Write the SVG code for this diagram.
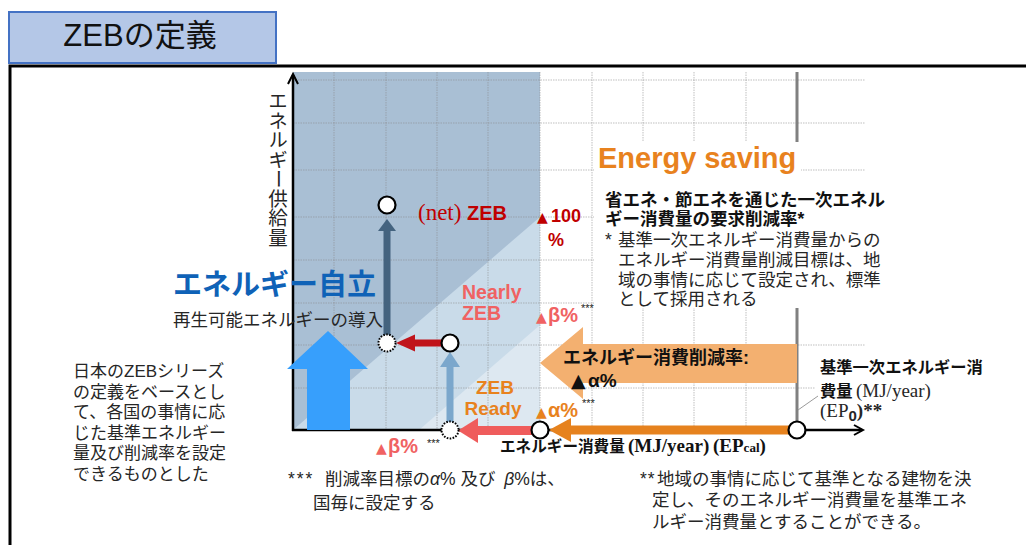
<svg xmlns="http://www.w3.org/2000/svg" width="1026" height="545" viewBox="0 0 1026 545">
<style>
.jp{font-family:"Liberation Sans","Noto Sans CJK JP",sans-serif;}
.ser{font-family:"Liberation Serif","Noto Serif CJK JP",serif;}
.n{fill:#262626;}
.b{font-weight:bold;}
.grid line{stroke:#8a8a8a;stroke-opacity:0.55;stroke-width:1;stroke-dasharray:1.5 1;}
.c{fill:#fff;stroke:#000;stroke-width:2.2;}
.cd{fill:#fff;stroke:#000;stroke-width:2;stroke-dasharray:1.6 1.4;}
.st{font-family:"Liberation Sans",sans-serif;font-size:11px;fill:#222;}
.red{fill:#c00000;}
.sal{fill:#f06262;}
.org{fill:#e8821e;}
.tri{font-family:"DejaVu Sans",sans-serif;font-size:14px;font-weight:normal;}
.trib{font-family:"DejaVu Sans",sans-serif;font-size:19px;font-weight:normal;}
.vt{font-family:"Noto Sans CJK JP",sans-serif;font-size:19.5px;fill:#262626;}
</style>
<rect width="1026" height="545" fill="#fff"/>

<g id="title">
<rect x="9" y="12" width="267" height="51" fill="#b4c7e7" stroke="#4472c4" stroke-width="2"/>
<text x="140" y="46" text-anchor="middle" class="jp" font-size="31" fill="#111">ZEBの定義</text>
</g>
<path id="frame" d="M10,545 V66 H1026" fill="none" stroke="#000" stroke-width="3"/>

<g id="chart-bg">
<rect x="293" y="72" width="247" height="358" fill="#a9bfd4"/>
<polygon points="293,430 540,217 540,430" fill="#c9dbe9"/>
<polygon points="419,430 540,325 540,430" fill="#dde8f1"/>
</g>

<g class="grid">
<line x1="334" y1="72" x2="334" y2="430"/>
<line x1="386" y1="72" x2="386" y2="430"/>
<line x1="437" y1="72" x2="437" y2="430"/>
<line x1="488" y1="72" x2="488" y2="430"/>
<line x1="540" y1="72" x2="540" y2="430"/>
<line x1="592" y1="72" x2="592" y2="430"/>
<line x1="643" y1="72" x2="643" y2="430"/>
<line x1="694" y1="72" x2="694" y2="430"/>
<line x1="746" y1="72" x2="746" y2="430"/>
<line x1="293" y1="80" x2="865" y2="80"/>
<line x1="293" y1="123" x2="865" y2="123"/>
<line x1="293" y1="170" x2="865" y2="170"/>
<line x1="293" y1="217" x2="865" y2="217"/>
<line x1="293" y1="260" x2="865" y2="260"/>
<line x1="293" y1="303" x2="865" y2="303"/>
<line x1="293" y1="345" x2="865" y2="345"/>
<line x1="293" y1="388" x2="865" y2="388"/>
</g>
<line id="baseline-bar" x1="797" y1="72" x2="797" y2="430" stroke="#808080" stroke-width="3"/>
<g id="covers" fill="#fff">
<rect x="594" y="142" width="207" height="38"/>
<rect x="594" y="180" width="296" height="128"/>
<rect x="815" y="352" width="180" height="70"/>
</g>

<g id="axes" stroke="#000" fill="none" stroke-width="2.5">
<line x1="293" y1="431" x2="293" y2="75"/>
<polyline points="288,84 293,74 298,84" stroke-width="2"/>
<line x1="292" y1="430" x2="862" y2="430"/>
<polyline points="854,425 863,430 854,435" stroke-width="2"/>
</g>
<line x1="798" y1="410" x2="818" y2="396" stroke="#9a9a9a" stroke-width="1"/>

<g id="connectors">
<polygon id="self-sufficiency-arrow" points="307,430 307,369 287,369 328,331 368,369 350,369 350,430" fill="#379ffc"/>
<polygon id="reduction-arrow" points="540,363 583,327 583,344 797,344 797,383 583,383 583,399" fill="#f3b070"/>
<g fill="#44637f"><rect x="383.5" y="229" width="7" height="114"/><polygon points="378,231 387,219 396,231"/></g>
<g fill="#c0141b"><rect x="414" y="339.5" width="36" height="7"/><polygon points="396,343 415,334.5 415,351.5"/></g>
<g fill="#7ba7cc"><rect x="446.5" y="365" width="7" height="65"/><polygon points="450,352 440,367 460,367"/></g>
<g fill="#ef5c5c"><rect x="476" y="426" width="64" height="9"/><polygon points="458,430.5 478,418 478,443"/></g>
<g fill="#e6821e"><rect x="569" y="425.5" width="228" height="9"/><polygon points="549,430 571,418 571,442"/></g>
</g>

<g id="points">
<circle class="c" cx="387" cy="205" r="8.5"/>
<circle class="cd" cx="387" cy="343" r="8.5"/>
<circle class="c" cx="450" cy="343" r="8.5"/>
<circle class="cd" cx="450" cy="430" r="8.5"/>
<circle class="c" cx="540" cy="430" r="8.5"/>
<circle class="c" cx="797" cy="430" r="8.5"/>
</g>

<g id="labels">
<g id="y-axis-label">
<text class="vt" x="278" y="91" style="writing-mode:vertical-rl">エネルギ</text>
<text class="vt" text-anchor="middle" transform="translate(270.6,178.75) rotate(90)">ー</text>
<text class="vt" x="278" y="188.5" style="writing-mode:vertical-rl">供給量</text>
</g>

<text x="418" y="220" class="red"><tspan class="ser" font-size="23">(net)</tspan><tspan x="467" class="jp b" font-size="20">ZEB</tspan></text>
<text x="537" y="222" class="jp b red"><tspan class="tri">▲</tspan><tspan font-size="18" x="551">100</tspan></text>
<text x="548" y="246" class="jp b red" font-size="18">%</text>

<text class="jp b sal" font-size="19.5"><tspan x="462" y="299">Nearly</tspan><tspan x="462" y="320">ZEB</tspan></text>
<text x="536" y="322" class="jp b sal"><tspan class="tri">▲</tspan><tspan font-size="20" x="548">β%</tspan></text>
<text x="581" y="312" class="st">***</text>

<text class="jp b org" font-size="19" text-anchor="middle"><tspan x="495" y="394">ZEB</tspan><tspan x="493" y="415">Ready</tspan></text>
<text x="536" y="417" class="jp b org"><tspan class="tri">▲</tspan><tspan font-size="20" x="548">α%</tspan></text>
<text x="582" y="407" class="st">***</text>

<text x="376" y="453" class="jp b sal"><tspan class="tri">▲</tspan><tspan font-size="20" x="388">β%</tspan></text>
<text x="427" y="447" class="st">***</text>

<text x="173" y="295" class="jp b" font-size="29" fill="#0f62b7">エネルギー自立</text>
<text x="173" y="326" class="jp n" font-size="17.5">再生可能エネルギーの導入</text>

<text x="598" y="168" class="jp b org" font-size="29">Energy saving</text>

<text class="jp b" font-size="17.5" fill="#111"><tspan x="605" y="206">省エネ・節エネを通じた一次エネル</tspan><tspan x="605" y="225">ギー消費量の要求削減率*</tspan></text>
<text class="jp n" font-size="17.5"><tspan x="605" y="246">*</tspan><tspan x="618" y="246">基準一次エネルギー消費量からの</tspan><tspan x="618" y="266">エネルギー消費量削減目標は、地</tspan><tspan x="618" y="286">域の事情に応じて設定され、標準</tspan><tspan x="618" y="305">として採用される</tspan></text>

<text x="563" y="364" class="jp b" font-size="18" fill="#111">エネルギー消費削減率:</text>
<text x="571" y="387" class="jp b" font-size="19" fill="#111"><tspan class="trib">▲</tspan><tspan x="588">α%</tspan></text>

<text x="500" y="452" class="b" fill="#111"><tspan class="jp" font-size="15.6">エネルギー消費量</tspan><tspan x="628" class="ser" font-size="19">(MJ/year)</tspan><tspan x="713" class="ser" font-size="19">(EP</tspan><tspan class="ser" font-size="13">cal</tspan><tspan class="ser" font-size="19">)</tspan></text>

<g id="baseline-label">
<text x="820" y="373" class="jp b" font-size="16.3" fill="#111">基準一次エネルギー消</text>
<text x="820" y="397" class="jp b" font-size="16.3" fill="#111">費量</text>
<text x="856" y="397" class="ser" font-size="19" fill="#262626">(MJ/year)</text>
<text x="820" y="417" class="ser" font-size="19" fill="#262626">(EP<tspan class="jp b" font-size="15" dy="4">0</tspan><tspan class="b" dy="-4">)**</tspan></text>
</g>

<text class="jp n" font-size="17"><tspan x="73" y="377">日本のZEBシリーズ</tspan><tspan x="73" y="397.6">の定義をベースとし</tspan><tspan x="73" y="418.2">て、各国の事情に応</tspan><tspan x="73" y="438.8">じた基準エネルギー</tspan><tspan x="73" y="459.4">量及び削減率を設定</tspan><tspan x="73" y="480">できるものとした</tspan></text>

<text class="jp n" font-size="17.5"><tspan x="288" y="485" letter-spacing="2">***</tspan><tspan x="325" y="485">削減率目標の</tspan><tspan font-style="italic">α</tspan><tspan>% 及び </tspan><tspan font-style="italic" dx="4">β</tspan><tspan>%は、</tspan><tspan x="313" y="509">国毎に設定する</tspan></text>

<text class="jp n" font-size="17.5"><tspan x="640" y="485" letter-spacing="1">**</tspan><tspan x="657" y="485">地域の事情に応じて基準となる建物を決</tspan><tspan x="652" y="506">定し、そのエネルギー消費量を基準エネ</tspan><tspan x="652" y="528">ルギー消費量とすることができる。</tspan></text>
</g>
</svg>
